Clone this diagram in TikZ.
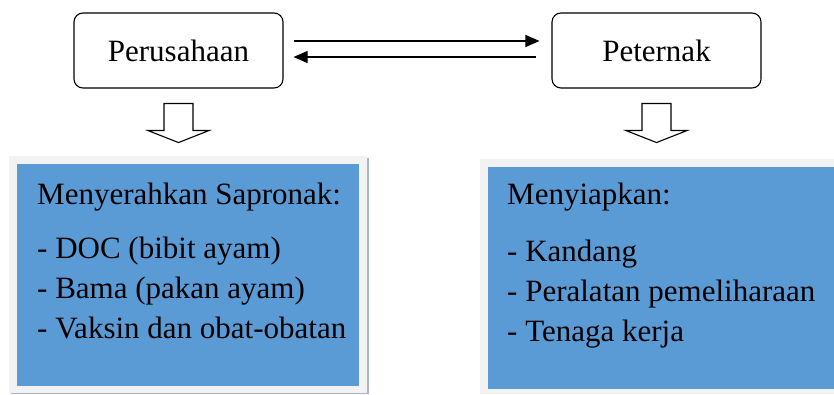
\documentclass[tikz,border=0pt]{standalone}
\usepackage{fontspec}
\setmainfont{Liberation Serif}
\usetikzlibrary{arrows.meta,calc}

\definecolor{boxblue}{RGB}{91,155,213}
\definecolor{framegray}{RGB}{242,242,242}
\definecolor{shadegray}{RGB}{170,182,200}

\tikzset{
  actor/.style={draw, rounded corners=9pt, line width=1.1pt, minimum width=209pt,
    minimum height=75pt, font=\fontsize{31}{36}\selectfont},
  flow/.style={line width=1.1pt, -{Triangle[length=14pt,width=12pt]}},
  hollow/.style={draw, line width=1.1pt, fill=white},
  listtext/.style={inner sep=0pt, align=left, anchor=base west,
    font=\fontsize{31}{40}\selectfont}
}

\begin{document}
\begin{tikzpicture}[x=1pt,y=1pt]
\useasboundingbox (0,0) rectangle (834,394);

% pihak yang terlibat
\node[actor] (perusahaan) at (178.5,343.5) {Perusahaan};
\node[actor] (peternak) at (656.5,343.5) {Peternak};

% hubungan kemitraan
\draw[flow] ([xshift=10pt,yshift=9.5pt]perusahaan.east) -- ([xshift=-12pt,yshift=9.5pt]peternak.west);
\draw[flow] ([xshift=-15pt,yshift=-6.5pt]peternak.west) -- ([xshift=10pt,yshift=-6.5pt]perusahaan.east);

% panah ke bawah
\foreach \n in {perusahaan,peternak}
  \draw[hollow] ($(\n.south)+(-14.5,-15)$) -- ++(0,-27) -- ++(-16,0)
    -- ++(30.5,-12) -- ++(30.5,12) -- ++(-16,0) -- ++(0,27) -- cycle;

% kotak kiri
\fill[shadegray] (11,0) rectangle (369,236);
\fill[framegray] (9,1) rectangle (367,238);
\fill[boxblue] (17,8) rectangle (359,230);
\node[listtext] (sapronak) at (37,56) {Menyerahkan Sapronak:\\[14pt]
  - DOC (bibit ayam)\\
  - Bama (pakan ayam)\\
  - Vaksin dan obat-obatan};

% kotak kanan
\fill[framegray] (480,0) rectangle (834,235);
\fill[boxblue] (488,5) rectangle (834,227);
\node[listtext] (menyiapkan) at (507,53) {Menyiapkan:\\[17pt]
  - Kandang\\
  - Peralatan pemeliharaan\\
  - Tenaga kerja};
\end{tikzpicture}
\end{document}
